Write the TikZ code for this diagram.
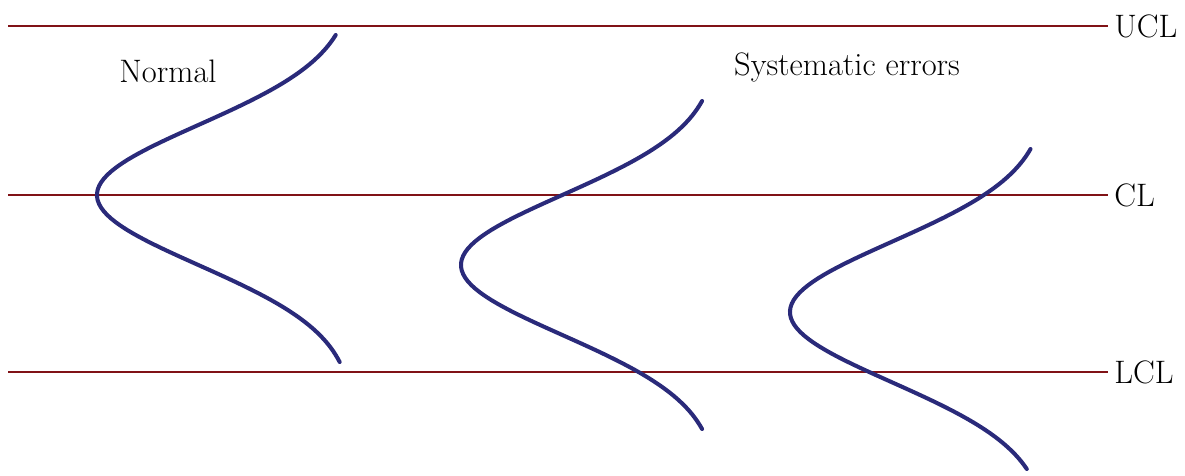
\documentclass[tikz,border=0pt]{standalone}
\usepackage{xcolor}
\usepackage{tikz}
\usetikzlibrary{positioning}
\definecolor{limitred}{RGB}{128,18,22}
\definecolor{bellblue}{RGB}{42,42,122}

\begin{document}
\begin{tikzpicture}[x=0.02cm,y=-0.02cm,
  limit/.style={draw=limitred,line width=1.7pt},
  lbl/.style={anchor=west,inner sep=0.12cm,font=\fontsize{18.5}{22}\selectfont},
  curve/.style={draw=bellblue,line width=2.3pt,line cap=round},
  title/.style={font=\fontsize{18.5}{22}\selectfont}]
\useasboundingbox (0,0) rectangle (1185,476);
% control limits
\node[lbl] (ucl) at (1108,26) {UCL};
\node[lbl] (cl) at (1108,195) {CL};
\node[lbl] (lcl) at (1108,372) {LCL};
\coordinate (uclstart) at (8,26);
\coordinate (clstart) at (8,195);
\coordinate (lclstart) at (8,372);
\draw[limit] (uclstart) -- (ucl.west);
\draw[limit] (clstart) -- (cl.west);
\draw[limit] (lclstart) -- (lcl.west);
% distributions, sideways
\draw[curve] plot[domain=-160:167,samples=90,variable=\d]
  ({354.6-257.6*exp(-0.5*(\d/70)*(\d/70))},{195+\d});
\draw[curve] plot[domain=-164:164,samples=90,variable=\d]
  ({718.6-257.6*exp(-0.5*(\d/70)*(\d/70))},{265+\d});
\draw[curve] plot[domain=-163:157,samples=90,variable=\d]
  ({1047.6-257.6*exp(-0.5*(\d/70)*(\d/70))},{312+\d});
\node[title] (normal) at (168,71) {Normal};
\node[title] (syserr) at (847,67) {Systematic errors};
\end{tikzpicture}
\end{document}
